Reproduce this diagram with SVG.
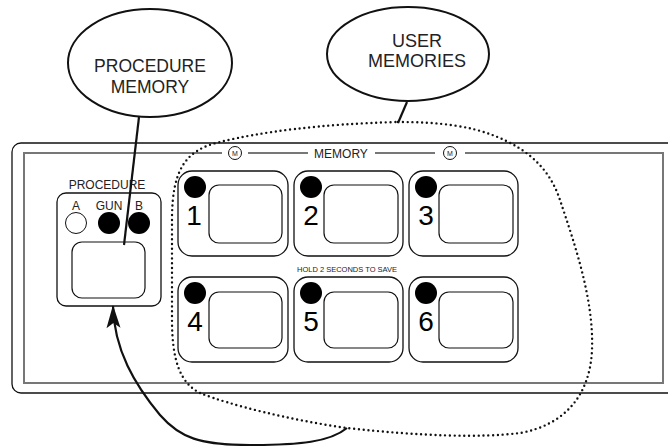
<svg xmlns="http://www.w3.org/2000/svg" width="668" height="446" viewBox="0 0 668 446">
<defs>
<style>
.t{font-family:"Liberation Sans",Arial,sans-serif;fill:#222;text-anchor:middle}
.btn{fill:none;stroke:#111;stroke-width:1.3}
.win{fill:none;stroke:#111;stroke-width:1.2}
.dot{fill:#000}
.num{font-family:"Liberation Sans",Arial,sans-serif;font-size:28px;fill:#000;text-anchor:middle}
.bubble{fill:#fff;stroke:#111;stroke-width:2}
.lead{fill:none;stroke:#111;stroke-width:2.2}
.gray{fill:none;stroke:#777;stroke-width:2}
</style>
<marker id="ah" markerUnits="userSpaceOnUse" markerWidth="30" markerHeight="20" viewBox="-24 -10 26 20" refX="0" refY="0" orient="auto">
<path d="M1,0 L-22,-7 L-17,0 L-22,7 Z" fill="#111"/>
</marker>
</defs>
<rect width="668" height="446" fill="#fff"/>

<g id="panel">
<rect x="12" y="143" width="680" height="250" rx="9" fill="none" stroke="#111" stroke-width="1.3"/>
<path class="gray" d="M222 153 H24 V383 H663 V153 H465 M435 153 H375 M308 153 H248"/>
<circle cx="235" cy="153" r="6.5" fill="#fff" stroke="#111" stroke-width="1"/>
<text class="t" x="235" y="155.5" font-size="7">M</text>
<circle cx="450" cy="153" r="6.5" fill="#fff" stroke="#111" stroke-width="1"/>
<text class="t" x="450" y="155.5" font-size="7">M</text>
<text class="t" x="341" y="158" font-size="12">MEMORY</text>
<text class="t" x="347" y="272" font-size="7.5">HOLD 2 SECONDS TO SAVE</text>
</g>

<g id="procedure">
<text class="t" x="107" y="189" font-size="12">PROCEDURE</text>
<rect class="btn" x="57" y="193" width="104" height="113" rx="9"/>
<text class="t" x="76" y="210" font-size="12">A</text>
<text class="t" x="109" y="210" font-size="12">GUN</text>
<text class="t" x="139" y="210" font-size="12">B</text>
<circle cx="76" cy="223" r="10.5" fill="#fff" stroke="#111" stroke-width="1"/>
<circle class="dot" cx="109" cy="223" r="11"/>
<circle class="dot" cx="139" cy="223" r="11"/>
<rect class="win" x="72" y="242" width="73" height="56" rx="10"/>
</g>

<g id="mem1">
<rect class="btn" x="178" y="171" width="110" height="85" rx="14"/>
<circle class="dot" cx="195" cy="187" r="11"/>
<rect class="win" x="209" y="185" width="73" height="58" rx="10"/>
<text class="num" x="194" y="225">1</text>
</g>
<g id="mem2">
<rect class="btn" x="294" y="171" width="109" height="85" rx="14"/>
<circle class="dot" cx="311" cy="187" r="11"/>
<rect class="win" x="324" y="185" width="74" height="58" rx="10"/>
<text class="num" x="311" y="225">2</text>
</g>
<g id="mem3">
<rect class="btn" x="409" y="171" width="109" height="85" rx="14"/>
<circle class="dot" cx="426" cy="187" r="11"/>
<rect class="win" x="439" y="185" width="74" height="58" rx="10"/>
<text class="num" x="426" y="225">3</text>
</g>
<g id="mem4">
<rect class="btn" x="178" y="277" width="110" height="85" rx="14"/>
<circle class="dot" cx="195" cy="293" r="11"/>
<rect class="win" x="209" y="292" width="73" height="56" rx="10"/>
<text class="num" x="195" y="331">4</text>
</g>
<g id="mem5">
<rect class="btn" x="294" y="277" width="109" height="85" rx="14"/>
<circle class="dot" cx="311" cy="293" r="11"/>
<rect class="win" x="324" y="292" width="74" height="56" rx="10"/>
<text class="num" x="311" y="331">5</text>
</g>
<g id="mem6">
<rect class="btn" x="409" y="277" width="109" height="85" rx="14"/>
<circle class="dot" cx="426" cy="293" r="11"/>
<rect class="win" x="439" y="292" width="74" height="56" rx="10"/>
<text class="num" x="426" y="331">6</text>
</g>

<g id="user-group">
<path d="M398 122 C440 122,470 126,495 136 C530 150,550 170,560 200 C575 245,594 300,592 350 C590 395,565 425,520 433 C480 438,420 436,347 428 C290 420,230 405,200 393 C180 383,172 360,172 320 L172 220 C172 170,185 150,220 142 C260 132,320 124,398 122 Z" fill="none" stroke="#111" stroke-width="2.4" stroke-linecap="round" stroke-dasharray="0 4.8"/>
</g>

<g id="connectors">
<path class="lead" d="M139 117 L124 245"/>
<path class="lead" d="M407 102 L398 123"/>
<path class="lead" stroke-width="2.5" d="M347 428 C330 442,300 445,250 445 C200 445,180 438,160 415 C135 385,114 350,113 306" marker-end="url(#ah)"/>
</g>

<g id="bubble-procedure">
<ellipse class="bubble" cx="150" cy="63" rx="82" ry="54"/>
<text class="t" x="150" y="72" font-size="17.5">PROCEDURE</text>
<text class="t" x="150" y="93" font-size="17.5">MEMORY</text>
</g>
<g id="bubble-user">
<ellipse class="bubble" cx="408" cy="54" rx="81" ry="47"/>
<text class="t" x="417" y="47" font-size="18">USER</text>
<text class="t" x="417" y="67" font-size="18">MEMORIES</text>
</g>
</svg>
